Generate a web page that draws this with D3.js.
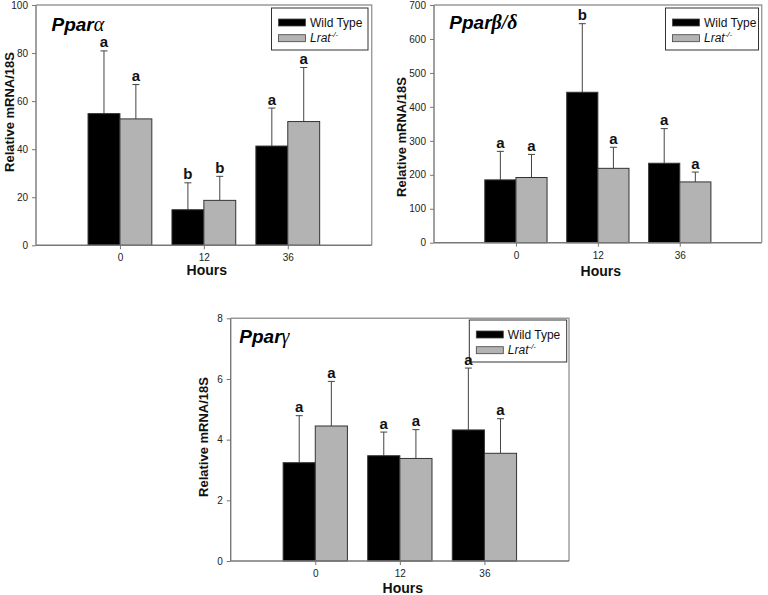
<!DOCTYPE html>
<html><head><meta charset="utf-8">
<script src="https://cdn.jsdelivr.net/npm/d3@7"></script>
<style>body{margin:0;background:#fff} svg{display:block}</style>
</head><body>
<svg id="c" width="768" height="595"></svg>
<script>
// ---------- data ----------
const categories = ["0", "12", "36"];
const seriesNames = ["Wild Type", "Lrat"];

const alphaWT = [54.8, 14.8, 41.3];
const alphaWTErr = [26.1, 11.2, 15.8];
const alphaKO = [52.6, 18.7, 51.5];
const alphaKOErr = [14.3, 10.0, 22.5];
const alphaWTLetters = ["a", "b", "a"];
const alphaKOLetters = ["a", "b", "a"];
const alphaTicks = [0, 20, 40, 60, 80, 100];

const betaWT = [185, 443, 234];
const betaWTErr = [84, 202, 102];
const betaKO = [192, 219, 179];
const betaKOErr = [68, 62, 29];
const betaWTLetters = ["a", "b", "a"];
const betaKOLetters = ["a", "a", "a"];
const betaTicks = [0, 100, 200, 300, 400, 500, 600, 700];

const gammaWT = [3.24, 3.47, 4.32];
const gammaWTErr = [1.55, 0.78, 2.04];
const gammaKO = [4.45, 3.38, 3.55];
const gammaKOErr = [1.47, 0.95, 1.14];
const gammaWTLetters = ["a", "a", "a"];
const gammaKOLetters = ["a", "a", "a"];
const gammaTicks = [0, 2, 4, 6, 8];

// ---------- layout ----------
const panels = [
  {name: "Ppar", greek: "\u03B1", greekBold: false,
   wt: alphaWT, wtErr: alphaWTErr, ko: alphaKO, koErr: alphaKOErr,
   wtL: alphaWTLetters, koL: alphaKOLetters, ticks: alphaTicks,
   left: 36, right: 371.7, top: 5, bottom: 245.3,
   titleX: 51.5, titleY: 31, yTitleX: 9, yTitleY: 112, hoursY: 275,
   legX: 271.5, legY: 8, legW: 96.5},
  {name: "Ppar", greek: "\u03B2/\u03B4", greekBold: true,
   wt: betaWT, wtErr: betaWTErr, ko: betaKO, koErr: betaKOErr,
   wtL: betaWTLetters, koL: betaKOLetters, ticks: betaTicks,
   left: 434, right: 761.7, top: 5, bottom: 242.7,
   titleX: 449.3, titleY: 28.5, yTitleX: 401.5, yTitleY: 137, hoursY: 275.5,
   legX: 665.5, legY: 8, legW: 93},
  {name: "Ppar", greek: "\u03B3", greekBold: false,
   wt: gammaWT, wtErr: gammaWTErr, ko: gammaKO, koErr: gammaKOErr,
   wtL: gammaWTLetters, koL: gammaKOLetters, ticks: gammaTicks,
   left: 230.7, right: 569, top: 318.3, bottom: 561,
   titleX: 239.3, titleY: 343.3, yTitleX: 203.3, yTitleY: 437, hoursY: 593,
   legX: 469.3, legY: 320, legW: 97.4}
];

const FONT = "'Liberation Sans', Arial, sans-serif";
const GREY = "#b3b3b3";
const svg = d3.select("#c");

panels.forEach(p => {
  const g = svg.append("g");
  const x = d3.scaleLinear().domain([-1, 3]).range([p.left, p.right]);
  const yMax = p.ticks[p.ticks.length - 1];
  const y = d3.scaleLinear().domain([0, yMax]).range([p.bottom, p.top]);
  const sub = d3.scaleBand().domain(seriesNames).range([-0.38, 0.38]);

  // frame (top, right)
  g.append("path")
    .attr("d", `M${p.left},${p.top}H${p.right}V${p.bottom}`)
    .attr("fill", "none").attr("stroke", "#9a9a9a").attr("stroke-width", 1.4);

  // bars
  const rows = [];
  categories.forEach((c, i) => {
    rows.push({i, s: "Wild Type", v: p.wt[i], e: p.wtErr[i], l: p.wtL[i]});
    rows.push({i, s: "Lrat", v: p.ko[i], e: p.koErr[i], l: p.koL[i]});
  });
  const bx = d => x(d.i + sub(d.s));
  const bw = d => x(d.i + sub(d.s) + sub.bandwidth()) - x(d.i + sub(d.s));
  const bc = d => bx(d) + bw(d) / 2;

  // error bars (upper only)
  g.selectAll(".err").data(rows).enter().append("path")
    .attr("d", d => `M${bc(d)},${y(d.v)}V${y(d.v + d.e)}M${bc(d) - 3.5},${y(d.v + d.e)}H${bc(d) + 3.5}`)
    .attr("stroke", "#444").attr("stroke-width", 1).attr("fill", "none");

  g.selectAll(".bar").data(rows).enter().append("rect")
    .attr("x", bx).attr("width", bw)
    .attr("y", d => y(d.v)).attr("height", d => y(0) - y(d.v))
    .attr("fill", d => d.s === "Wild Type" ? "#000" : GREY)
    .attr("stroke", "#333").attr("stroke-width", 1);

  // axes
  const ya = d3.axisLeft(y).tickValues(p.ticks).tickSize(4).tickPadding(4);
  const yg = g.append("g").attr("transform", `translate(${p.left},0)`).call(ya);
  const xa = d3.axisBottom(x).tickValues([0, 1, 2]).tickFormat(i => categories[i])
    .tickSize(4).tickPadding(5).tickSizeOuter(0);
  const xg = g.append("g").attr("transform", `translate(0,${p.bottom})`).call(xa);
  [yg, xg].forEach(a => {
    a.select(".domain").attr("stroke", "#777").attr("stroke-width", 1.4);
    a.selectAll(".tick line").attr("stroke", "#777");
    a.selectAll("text").attr("font-family", FONT).attr("font-size", 10).attr("fill", "#222");
  });
  yg.select(".domain").attr("d", `M0,${p.bottom}V${p.top}`);
  xg.select(".domain").attr("d", `M${p.left},0H${p.right}`);

  // axis titles
  g.append("text").attr("x", (p.left + p.right) / 2 + 3).attr("y", p.hoursY)
    .attr("text-anchor", "middle").attr("font-family", FONT).attr("font-weight", "bold")
    .attr("font-size", 14).attr("fill", "#111").text("Hours");
  g.append("text")
    .attr("transform", `translate(${p.yTitleX},${p.yTitleY}) rotate(-90)`)
    .attr("dy", "0.36em").attr("text-anchor", "middle").attr("font-family", FONT)
    .attr("font-weight", "bold").attr("font-size", 13).attr("fill", "#111")
    .text("Relative mRNA/18S");

  // panel title
  const t = g.append("text").attr("x", p.titleX).attr("y", p.titleY)
    .attr("font-family", FONT).attr("font-size", 19).attr("fill", "#000");
  t.append("tspan").attr("font-weight", "bold").attr("font-style", "italic").text(p.name);
  t.append("tspan").attr("font-family", "'Liberation Serif', serif").attr("font-style", "italic")
    .attr("font-weight", p.greekBold ? "bold" : "normal").attr("font-size", 20).text(p.greek);

  // legend
  const lg = g.append("g").attr("transform", `translate(${p.legX},${p.legY})`);
  lg.append("rect").attr("width", p.legW).attr("height", 42)
    .attr("fill", "#fff").attr("stroke", "#333").attr("stroke-width", 1);
  seriesNames.forEach((s, k) => {
    lg.append("rect").attr("x", 7).attr("y", 11 + k * 15.7).attr("width", 27).attr("height", 7)
      .attr("fill", k === 0 ? "#000" : GREY).attr("stroke", "#444").attr("stroke-width", 0.8);
    const tt = lg.append("text").attr("x", 38.5).attr("y", 18.5 + k * 15.7)
      .attr("font-family", FONT).attr("font-size", 12).attr("fill", "#111");
    if (k === 0) tt.text(s);
    else {
      tt.append("tspan").attr("font-style", "italic").text(s);
      tt.append("tspan").attr("font-style", "italic").attr("font-size", 8).attr("dy", -5).text("-/-");
    }
  });

  // significance letters
  g.selectAll(".lt").data(rows).enter().append("text")
    .attr("x", bc).attr("y", d => y(d.v + d.e) - 3.5)
    .attr("text-anchor", "middle").attr("font-family", FONT).attr("font-weight", "bold")
    .attr("font-size", 15).attr("fill", "#111").text(d => d.l);
});
</script>
</body></html>
